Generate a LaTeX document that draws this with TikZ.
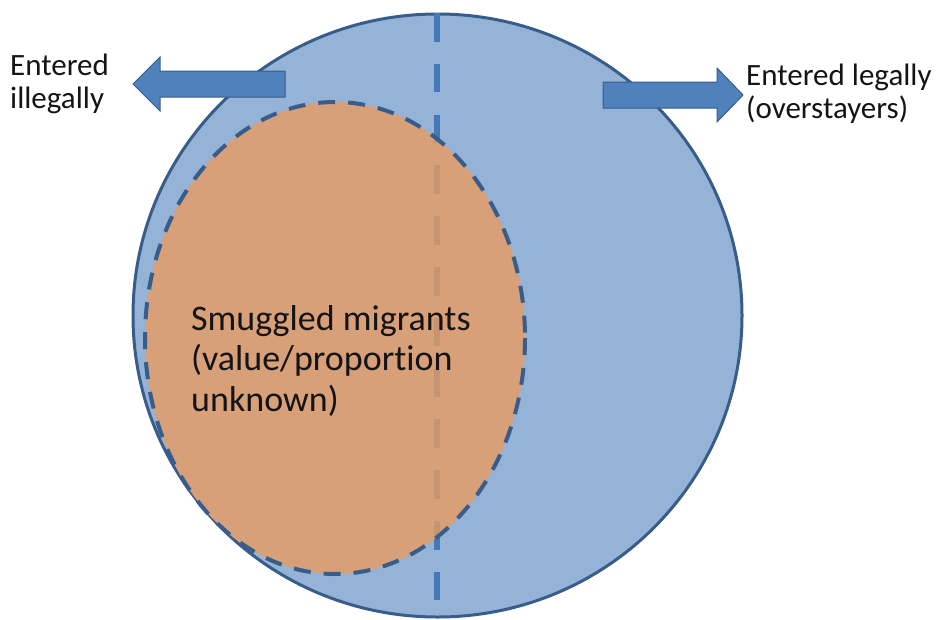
\documentclass[tikz,border=0pt]{standalone}
\usepackage{fontspec}
\setmainfont{Carlito}[Ligatures=CommonOff]
\usetikzlibrary{shapes.geometric}

\definecolor{poolfill}{RGB}{149,179,215}
\definecolor{poolline}{RGB}{56,93,138}
\definecolor{splitline}{RGB}{70,120,185}
\definecolor{smugfill}{RGB}{215,160,121}
\definecolor{smugsplit}{RGB}{198,148,113}
\definecolor{arrowfill}{RGB}{79,129,189}
\definecolor{textcol}{RGB}{20,20,20}

\begin{document}
\begin{tikzpicture}[x=1pt, y=-1pt,
    pool/.style={ellipse, draw=poolline, fill=poolfill, line width=3pt, inner sep=0pt},
    smuggled/.style={ellipse, fill=smugfill, inner sep=0pt},
    split/.style={line width=6pt, dash pattern=on 28.5pt off 22.3pt}]
    \useasboundingbox (0,0) rectangle (939,619);
    % Labels
    \tikzstyle{side} = [align=left, anchor=base west, inner sep=0pt, text=textcol, font=\fontsize{31}{33}\selectfont]
    \tikzstyle{bigarrow} = [draw=poolline, fill=arrowfill, line width=1pt, line join=miter]

    % Sets
    \node[pool, minimum width=609pt, minimum height=603pt] (all) at (437.5,315.5) {};
    \coordinate (top) at (437,13);
    \coordinate (bottom) at (437,612);
    \draw[split, splitline] (top) -- (bottom);

    \node[smuggled, minimum width=380pt, minimum height=472pt] (smug) at (335,338) {};
    \begin{scope}
        \clip (335,338) ellipse [x radius=190, y radius=236];
        \draw[split, smugsplit] (top) -- (bottom);
    \end{scope}
    \draw[poolline, line width=4pt, dash pattern=on 17pt off 13pt] (335,338) ellipse [x radius=190, y radius=236];

    % Arrows
    \draw[bigarrow] (285,71) -- (160,71) -- (160,57) -- (133,84) -- (160,111) -- (160,97) -- (285,97) -- cycle;
    \draw[bigarrow] (603,82) -- (717,82) -- (717,68) -- (743,95) -- (717,122) -- (717,108) -- (603,108) -- cycle;

    % Texts
    \node[side] (illegal-label) at (10,108) {Entered\\illegally};
    \node[side] (legal-label) at (746,118) {Entered legally\\(overstayers)};
    \node[side, font=\fontsize{36}{40.5}\selectfont] (smug-label) at (191,411) {Smuggled migrants\\(value/proportion\\unknown)};
\end{tikzpicture}
\end{document}
